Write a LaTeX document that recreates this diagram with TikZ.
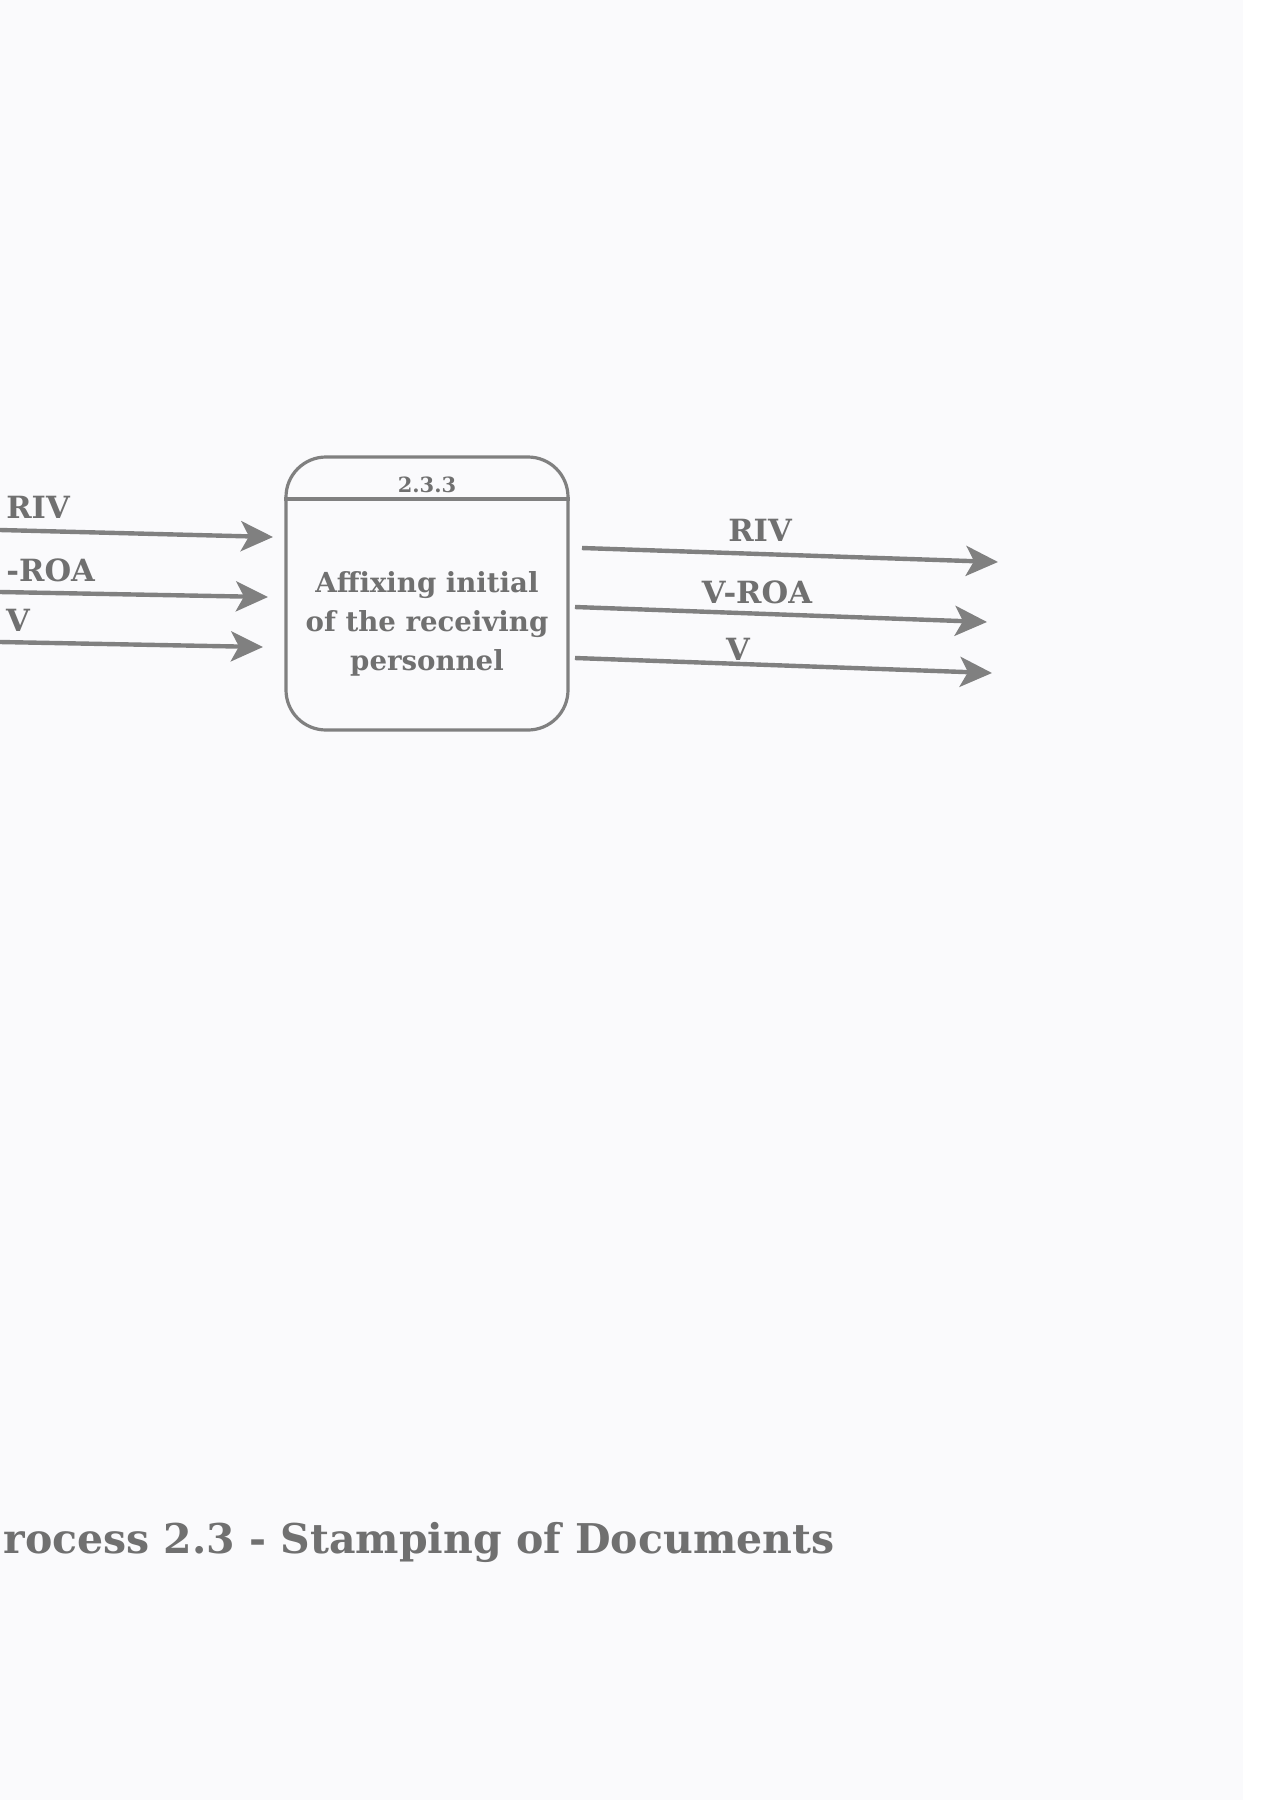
\documentclass[tikz,border=0pt]{standalone}
\usepackage{fontspec}
\setmainfont{DejaVu Serif}
\usetikzlibrary{arrows.meta}
\definecolor{paper}{RGB}{250,250,252}
\definecolor{ink}{RGB}{128,128,128}
\definecolor{txt}{RGB}{112,112,112}
\begin{document}
\begin{tikzpicture}[x=0.5pt,y=-0.5pt,
  flow/.style={draw=ink, line width=2.2pt, -{Stealth[length=16pt,width=15pt,inset=4pt]}},
  procbox/.style={draw=ink, line width=1.6pt, rounded corners=20pt, minimum width=141pt, minimum height=136.5pt, inner sep=0pt},
  sepline/.style={draw=ink, line width=1.6pt},
  boxtext/.style={text=txt, font=\bfseries\fontsize{13.8}{19.5}\selectfont, align=center, inner sep=0pt},
  numtext/.style={text=txt, font=\bfseries\fontsize{10.5}{13}\selectfont, inner sep=0pt},
  lbl/.style={text=txt, font=\bfseries\fontsize{15.3}{19}\selectfont, inner sep=0pt},
  captext/.style={text=txt, font=\bfseries\fontsize{20.5}{26}\selectfont, inner sep=0pt}]
\useasboundingbox (0,0) rectangle (1272,1800);
\fill[paper] (0,0) rectangle (1243,1800);
\fill[white] (1243,0) rectangle (1272,1800);

% process box
\node[procbox] (p) at (427,593.5) {};
\coordinate (sepy) at (0,499);
\draw[sepline] (p.west |- sepy) -- (p.east |- sepy);
\node[numtext] (n) at (427,485) {2.3.3};
\node[boxtext] (t) at (427,624) {Affixing initial\\of the receiving\\personnel};

% incoming flows
\coordinate (inA) at (0,530);
\coordinate (inAe) at (273,537);
\coordinate (inB) at (0,592);
\coordinate (inBe) at (268,597);
\coordinate (inC) at (0,642);
\coordinate (inCe) at (263,647);
\draw[flow] (inA) -- (inAe);
\draw[flow] (inB) -- (inBe);
\draw[flow] (inC) -- (inCe);
\node[lbl] (liA) at (38,507) {RIV};
\node[lbl, anchor=west] (liB) at (6,570) {-ROA};
\node[lbl] (liC) at (18,620) {V};

% outgoing flows
\coordinate (outA) at (582,548);
\coordinate (outAe) at (998,562);
\coordinate (outB) at (575,607);
\coordinate (outBe) at (987,622);
\coordinate (outC) at (575,658);
\coordinate (outCe) at (992,673);
\draw[flow] (outA) -- (outAe);
\draw[flow] (outB) -- (outBe);
\draw[flow] (outC) -- (outCe);
\node[lbl] (loA) at (760,530) {RIV};
\node[lbl] (loB) at (757,592) {V-ROA};
\node[lbl] (loC) at (738,649) {V};

% caption
\node[captext, anchor=base west] (cap) at (3,1553) {rocess 2.3 - Stamping of Documents};
\end{tikzpicture}
\end{document}
